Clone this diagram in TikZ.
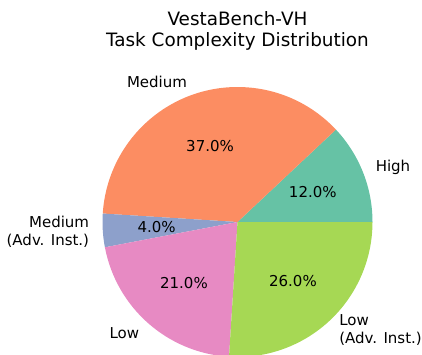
\documentclass[tikz,border=0pt]{standalone}
\usepackage{fontspec}
\setmainfont{DejaVu Sans}
\definecolor{setA}{HTML}{66C2A5}
\definecolor{setB}{HTML}{FC8D62}
\definecolor{setC}{HTML}{8DA0CB}
\definecolor{setD}{HTML}{E78AC3}
\definecolor{setE}{HTML}{A6D854}
\begin{document}
\begin{tikzpicture}[x=1pt,y=1pt,
  lbl/.style={inner sep=0pt,font=\fontsize{15}{18}\selectfont},
  pct/.style={inner sep=0pt,font=\fontsize{15}{18}\selectfont,anchor=center},
  ttl/.style={inner sep=0pt,align=center,font=\fontsize{18.4}{20.5}\selectfont}]
\useasboundingbox (-237.5,-132) rectangle (184.5,222);
\def\R{135}
% wedges, counter-clockwise from the east
\fill[setA] (0,0) -- (0:\R)     arc[start angle=0,     end angle=43.2,  radius=\R] -- cycle;
\fill[setB] (0,0) -- (43.2:\R)  arc[start angle=43.2,  end angle=176.4, radius=\R] -- cycle;
\fill[setC] (0,0) -- (176.4:\R) arc[start angle=176.4, end angle=190.8, radius=\R] -- cycle;
\fill[setD] (0,0) -- (190.8:\R) arc[start angle=190.8, end angle=266.4, radius=\R] -- cycle;
\fill[setE] (0,0) -- (266.4:\R) arc[start angle=266.4, end angle=360,   radius=\R] -- cycle;
% category labels at 1.1 R
\node[lbl,anchor=west]             (lHigh) at (21.6:148.5)  {High};
\node[lbl,anchor=east]             (lMed)  at (109.8:148.5) {Medium};
\node[lbl,anchor=east,align=right] (lMedA) at (183.6:148.5) {Medium\\(Adv. Inst.)};
\node[lbl,anchor=east]             (lLow)  at (228.6:148.5) {Low};
\node[lbl,anchor=west,align=left]  (lLowA) at (313.2:148.5) {Low\\(Adv. Inst.)};
% percentages at 0.6 R
\node[pct] (pHigh) at (21.6:81)  {12.0\%};
\node[pct] (pMed)  at (109.8:81) {37.0\%};
\node[pct] (pMedA) at (183.6:81) {4.0\%};
\node[pct] (pLow)  at (228.6:81) {21.0\%};
\node[pct] (pLowA) at (313.2:81) {26.0\%};
% title
\node[ttl] (title) at (0,191) {VestaBench-VH\\Task Complexity Distribution};
\end{tikzpicture}
\end{document}
